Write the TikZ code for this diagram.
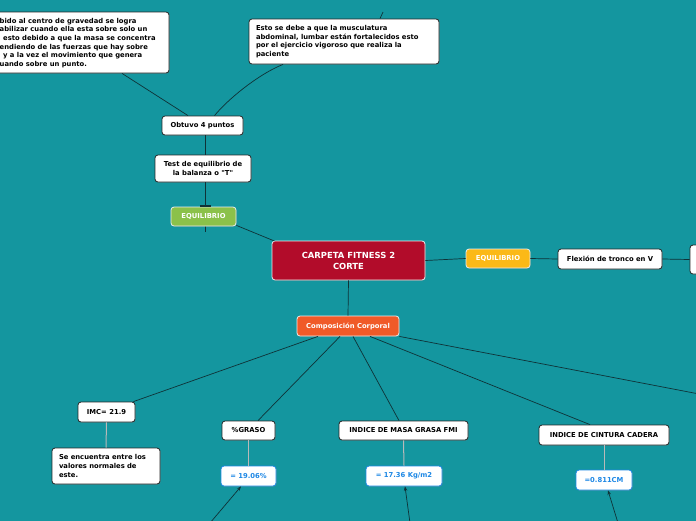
\documentclass[tikz,border=0pt]{standalone}
\usepackage{fontspec}
\setmainfont{DejaVu Sans}
\usetikzlibrary{arrows.meta,shadows}
\definecolor{bg}{RGB}{20,150,159}
\definecolor{ctr}{RGB}{178,12,42}
\definecolor{grn}{RGB}{139,193,74}
\definecolor{amb}{RGB}{251,185,23}
\definecolor{org}{RGB}{240,90,40}
\definecolor{blu}{RGB}{30,136,229}
\definecolor{ln}{RGB}{15,50,55}
\tikzset{
  base/.style={rounded corners=3pt, line width=0.8pt, inner sep=0pt, align=center,
    font=\fontsize{6.8}{8.6}\selectfont\bfseries,
    drop shadow={shadow xshift=0.7pt, shadow yshift=-0.7pt, opacity=0.35}},
  box/.style={base, draw=black!85, fill=white, text=black},
  colbox/.style={base, draw=white!85!gray, text=white},
  valbox/.style={base, draw=blu, fill=white, text=blu},
  conn/.style={draw=ln, line width=0.7pt},
  gconn/.style={draw=gray!55, line width=1pt},
  tip/.style={-{Stealth[length=4.5pt,width=3.5pt]}}
}
\begin{document}
\begin{tikzpicture}[x=1pt,y=-1pt]
\useasboundingbox (0,0) rectangle (696,520);
\clip (0,0) rectangle (696,520);
\fill[bg] (-5,-5) rectangle (701,525);

% nodes
\node[box, minimum width=229pt, minimum height=61pt] (tl) at (54.5,42.5) {};
\node[anchor=west, align=left, inner sep=0pt, font=\fontsize{6.8}{8.6}\selectfont\bfseries] (tltext) at (-0.5,43) {bido al centro de gravedad se logra\\abilizar cuando ella esta sobre solo un\\\hspace*{3.5pt}esto debido a que la masa se concentra\\endiendo de las fuerzas que hay sobre\\\hspace*{3.5pt}y a la vez el movimiento que genera\\uando sobre un punto.};
\node[box, minimum width=190pt, minimum height=45pt, text width=176pt, align=left] (tm) at (344,41.5) {Esto se debe a que la musculatura\\abdominal, lumbar están fortalecidos esto\\por el ejercicio vigoroso que realiza la\\paciente};
\node[box, minimum width=81pt, minimum height=19pt] (obt) at (202.5,125.5) {Obtuvo 4 puntos};
\node[box, minimum width=96pt, minimum height=27pt] (test) at (203,168.5) {Test de equilibrio de\\la balanza o \textquotedbl T\textquotedbl};
\coordinate (stub) at (205,232);
\draw[conn] (test.south -| stub) -- (stub);
\node[colbox, fill=grn, minimum width=65pt, minimum height=19pt] (eqg) at (203.5,216.5) {EQUILIBRIO};
\draw[ln, line width=1.1pt] (200,206) -- (211,206);

\node[colbox, fill=ctr, minimum width=153pt, minimum height=39pt, font=\fontsize{8.4}{11}\selectfont\bfseries] (ctr) at (348.5,260.5) {CARPETA FITNESS 2\\CORTE};
\node[colbox, fill=amb, minimum width=64pt, minimum height=19pt] (eqo) at (498,258.5) {EQUILIBRIO};
\node[box, minimum width=104pt, minimum height=20pt] (flex) at (610,259) {Flexión de tronco en V};
\node[box, minimum width=70pt, minimum height=29pt] (rbox) at (725,259.5) {};
\node[colbox, fill=org, minimum width=102pt, minimum height=20pt] (comp) at (348,326) {Composición Corporal};

\node[box, minimum width=57pt, minimum height=20pt] (imc) at (106.5,412) {IMC= 21.9};
\node[box, minimum width=108pt, minimum height=36pt, text width=94pt, align=left] (se) at (106,466) {Se encuentra entre los\\valores normales de\\este.};
\node[box, minimum width=53pt, minimum height=19pt] (gr) at (248.5,430.5) {\%GRASO};
\node[valbox, minimum width=55pt, minimum height=20pt] (g19) at (248.5,476) {= 19.06\%};
\node[box, minimum width=129pt, minimum height=19pt] (fmi) at (403.5,430.5) {INDICE DE MASA GRASA FMI};
\node[valbox, minimum width=76pt, minimum height=20pt] (f17) at (404,476) {= 17.36 Kg/m2};
\node[box, minimum width=130pt, minimum height=20pt] (cin) at (604,435) {INDICE DE CINTURA CADERA};
\node[valbox, minimum width=56pt, minimum height=20pt] (c811) at (604,480) {=0.811CM};

% connectors
\coordinate (tmtop) at (383,12);
\coordinate (offr) at (720,398);
\coordinate (a1) at (210,523);
\coordinate (a2) at (410,523);
\coordinate (a3) at (618,523);
\draw[conn] ([xshift=-14.5pt]obt.north) -- ([xshift=67.5pt]tl.south);
\draw[conn] ([xshift=12pt]obt.north) .. controls +(13,-16) and +(-25,10) .. ([xshift=-61pt]tm.south);
\draw[conn] ([xshift=36pt]tm.north) -- (tmtop);
\draw[conn] (obt.south -| stub) -- (test.north -| stub);
\draw[conn] (eqg.south east) ++(0,-1) -- ([xshift=3pt,yshift=-0.5pt]ctr.north west);
\draw[conn] (ctr.east) -- (eqo.west);
\draw[conn] (eqo.east) -- (flex.west);
\draw[conn] (flex.east) -- (rbox.west);
\draw[conn] (ctr.south) -- (comp.north);
\draw[conn] ([xshift=-30pt]comp.south) -- ([xshift=-2pt]imc.north east);
\draw[conn] ([xshift=-8pt]comp.south) -- ([xshift=9.5pt]gr.north);
\draw[conn] ([xshift=5pt]comp.south) -- ([xshift=-4.5pt]fmi.north);
\draw[conn] ([xshift=22pt]comp.south) -- ([xshift=-14pt]cin.north);
\draw[conn] (comp.south east) -- (offr);
\draw[gconn] (imc.south) -- (se.north);
\draw[gconn] (gr.south) -- (g19.north);
\draw[gconn] (fmi.south) -- (f17.north);
\draw[gconn] (cin.south) -- (c811.north);
\draw[conn, tip] (a1) -- ([xshift=-7.5pt]g19.south);
\draw[conn, tip] (a2) -- ([xshift=1pt]f17.south);
\draw[conn, tip] (a3) -- ([xshift=4pt]c811.south);
\end{tikzpicture}
\end{document}
